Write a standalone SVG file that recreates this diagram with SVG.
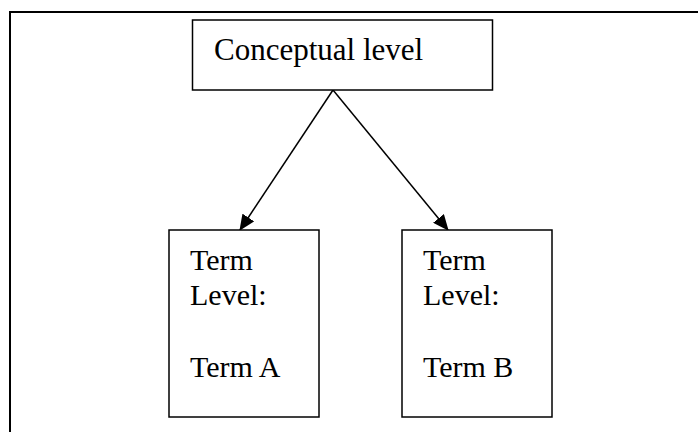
<svg xmlns="http://www.w3.org/2000/svg" width="698" height="432" viewBox="0 0 698 432">
<style>
.box{fill:#fff;stroke:#000;stroke-width:1.5}
.t{font-family:"Liberation Serif","Times New Roman",serif;font-size:30px;fill:#000}
.c{stroke:#000;stroke-width:1.5;fill:none}
</style>
<defs>
<marker id="ah" markerWidth="16" markerHeight="14" refX="15" refY="7" orient="auto" markerUnits="userSpaceOnUse">
<path d="M0,0 L16,7 L0,14 Z" fill="#000"/>
</marker>
</defs>
<rect x="10" y="12" width="700" height="430" fill="#fff" stroke="#000" stroke-width="2"/>
<g id="connectors">
<line class="c" x1="333" y1="90" x2="240" y2="230" marker-end="url(#ah)"/>
<line class="c" x1="333" y1="90" x2="448" y2="230" marker-end="url(#ah)"/>
</g>
<g id="conceptual">
<rect class="box" x="192.5" y="20" width="300" height="70"/>
<text class="t" x="214" y="60" style="font-size:31px">Conceptual level</text>
</g>
<g id="termA">
<rect class="box" x="169" y="230" width="150" height="187"/>
<text class="t" x="190" y="270">Term</text>
<text class="t" x="190" y="305">Level:</text>
<text class="t" x="190" y="377">Term A</text>
</g>
<g id="termB">
<rect class="box" x="402" y="230" width="150" height="187"/>
<text class="t" x="423" y="270">Term</text>
<text class="t" x="423" y="305">Level:</text>
<text class="t" x="423" y="377">Term B</text>
</g>
</svg>
